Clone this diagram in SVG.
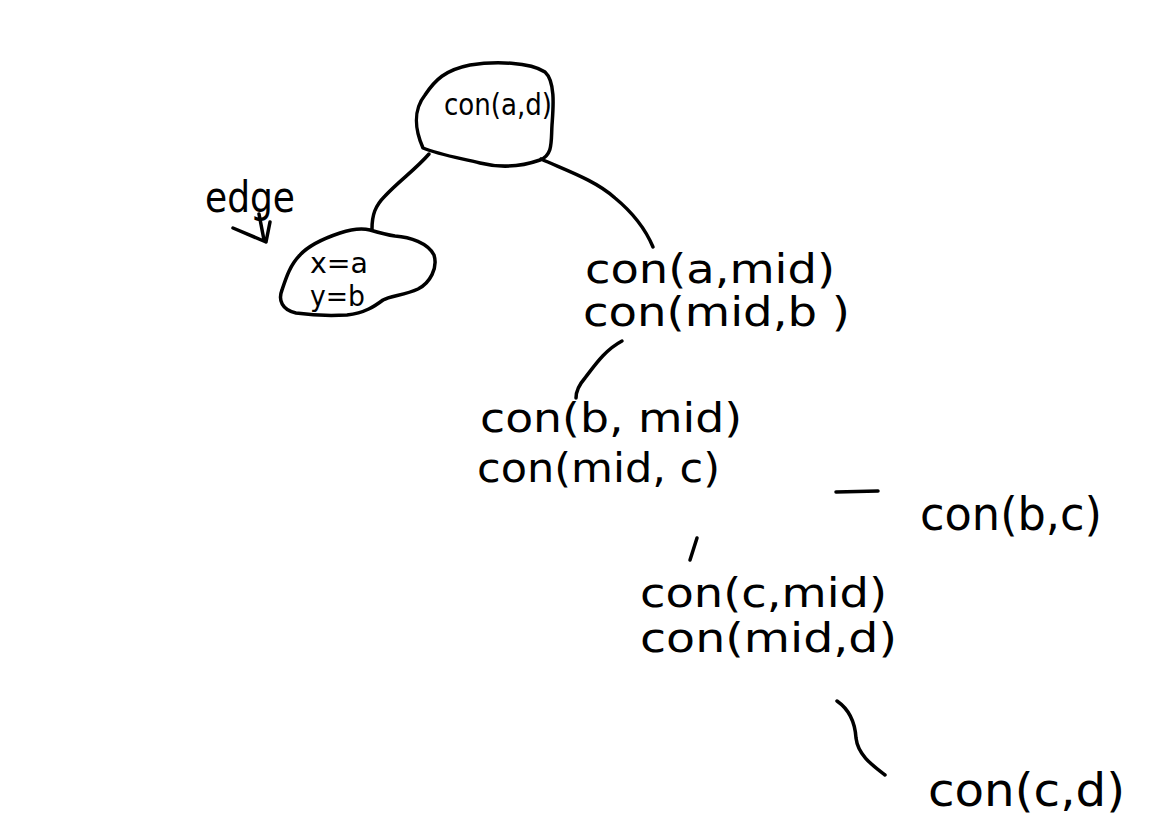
<svg xmlns="http://www.w3.org/2000/svg" width="1152" height="840" viewBox="0 0 1152 840">
<style>
.s{fill:none;stroke:#000;stroke-width:3.5;stroke-linecap:round;stroke-linejoin:round}
.t{font-family:"DejaVu Sans","Liberation Sans",sans-serif;fill:#000}
</style>
<rect width="1152" height="840" fill="#fff"/>
<g id="connectors">
<path class="s" d="M429,154 C415,170 400,180 385,196 C375,206 372,215 372,229"/>
<path class="s" d="M541,159 C565,170 595,180 615,198 C632,212 645,228 653,247"/>
<path class="s" d="M622,341 C605,350 595,365 585,378 C578,386 576,392 576,398"/>
<path class="s" d="M697,538 L690,560"/>
<path class="s" d="M837,701 C850,710 855,722 856,738 C858,755 872,765 885,775"/>
<path class="s" d="M836,492 L878,491"/>
</g>
<g id="root">
<path class="s" d="M423,148 C415,130 413,110 425,95 C435,80 445,70 470,65 C495,61 530,62 545,72 C556,82 553,110 552,125 C551,142 553,155 540,160 C520,167 500,168 480,163 C460,158 440,155 423,148 Z"/>
<text class="t" x="444" y="115" font-size="30" textLength="108" lengthAdjust="spacingAndGlyphs">con(a,d)</text>
</g>
<g id="leaf-xy">
<path class="s" d="M370,230 C380,233 388,235 395,236 C410,237 428,243 434,255 C438,268 430,283 418,289 C405,295 390,296 383,300 C375,306 365,313 347,315 C330,316 310,315 296,313 C282,310 278,300 282,290 C286,278 290,265 300,255 C310,244 325,238 340,233 C352,229 362,228 370,230 Z"/>
<text class="t" x="310" y="273" font-size="29" textLength="58" lengthAdjust="spacingAndGlyphs">x=a</text>
<text class="t" x="310" y="306" font-size="29" textLength="55" lengthAdjust="spacingAndGlyphs">y=b</text>
</g>
<g id="edge-label">
<text class="t" x="205" y="212" font-size="42" textLength="90" lengthAdjust="spacingAndGlyphs">edge</text>
<path class="s" d="M233,228 L266,242 M270,222 L266,242 M259,214 L264,240"/>
</g>
<g id="node-amid">
<text class="t" x="585" y="283" font-size="40" textLength="250" lengthAdjust="spacingAndGlyphs">con(a,mid)</text>
<text class="t" x="583" y="326" font-size="40" textLength="267" lengthAdjust="spacingAndGlyphs">con(mid,b )</text>
</g>
<g id="node-bmid">
<text class="t" x="480" y="432" font-size="40" textLength="262" lengthAdjust="spacingAndGlyphs">con(b, mid)</text>
<text class="t" x="477" y="482" font-size="40" textLength="243" lengthAdjust="spacingAndGlyphs">con(mid, c)</text>
</g>
<g id="node-bc">
<text class="t" x="920" y="530" font-size="46" textLength="182" lengthAdjust="spacingAndGlyphs">con(b,c)</text>
</g>
<g id="node-cmid">
<text class="t" x="640" y="607" font-size="40" textLength="247" lengthAdjust="spacingAndGlyphs">con(c,mid)</text>
<text class="t" x="640" y="652" font-size="40" textLength="257" lengthAdjust="spacingAndGlyphs">con(mid,d)</text>
</g>
<g id="node-cd">
<text class="t" x="928" y="806" font-size="46" textLength="197" lengthAdjust="spacingAndGlyphs">con(c,d)</text>
</g>
</svg>
